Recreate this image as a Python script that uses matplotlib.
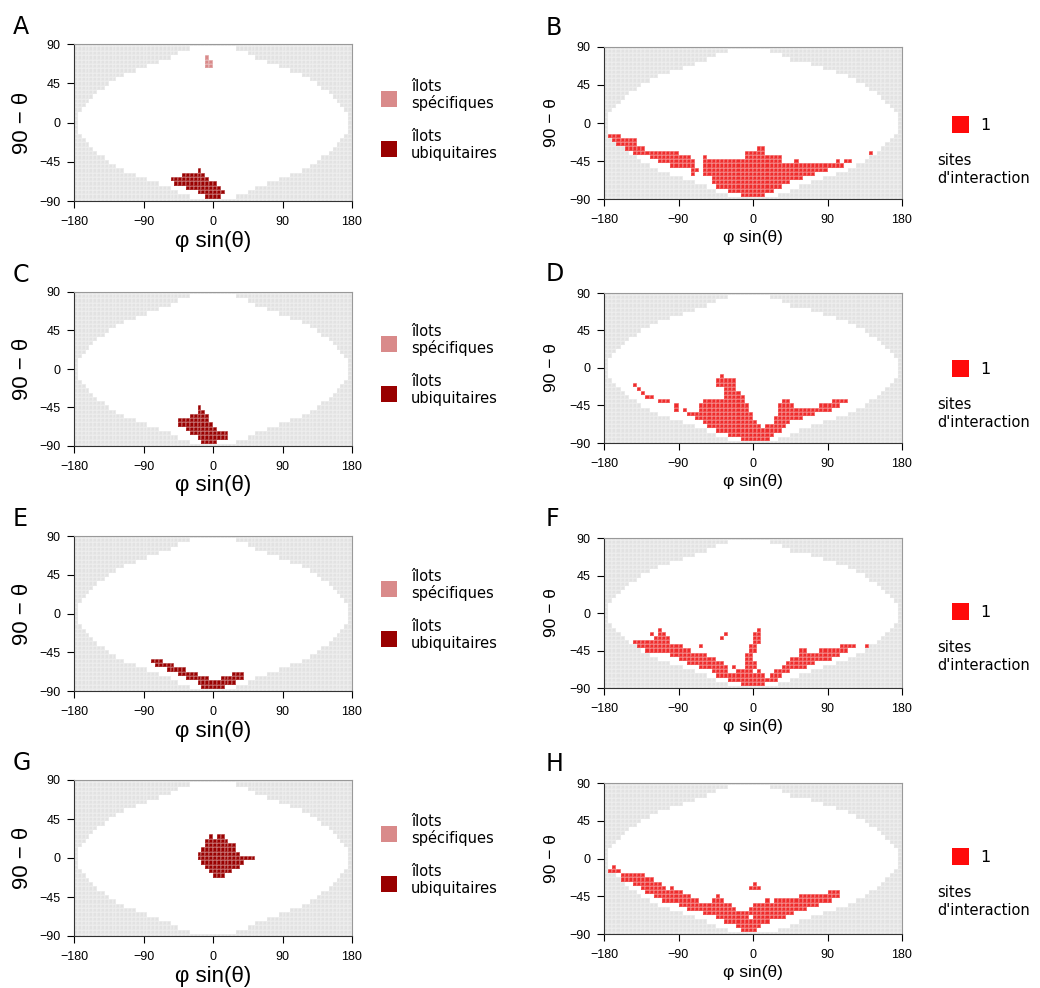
import numpy as np
import matplotlib
matplotlib.use("Agg")
import matplotlib.pyplot as plt
from matplotlib.colors import ListedColormap, BoundaryNorm
from matplotlib.patches import Rectangle

# ------------------------------------------------------------------ data
X_TICKS = [-180, -90, 0, 90, 180]
Y_TICKS = [-90, -45, 0, 45, 90]
X_EDGES = np.arange(-180, 181, 5)          # 72 columns of 5 degrees
Y_CENTERS = np.arange(-90, 91, 5)          # 37 rows centred on multiples of 5
Y_EDGES = np.arange(-92.5, 93, 5)

# accessible (white) area: |90-theta| of the row -> half width (degrees)
MASK_ABS_Y = [0, 5, 10, 15, 20, 25, 30, 35, 40, 45, 50, 55, 60, 65, 70, 75, 80, 85, 90]
MASK_HALF_WIDTH = [175, 175, 175, 170, 165, 160, 155, 150, 140, 135, 125, 115, 100, 85, 70, 55, 45, 30, 0]
# right-hand column: top rows slightly asymmetric
RIGHT_TOP_Y = [85, 80, 75]
RIGHT_TOP_LEFT = [-30, -45, -55]
RIGHT_TOP_RIGHT = [20, 35, 45]

# cells: (row 90-theta, x from, x to)
A_SPEC = [(75, -10, -5), (70, -10, 0), (65, -10, 0)]
A_UBIQ = [(-55, -20, -15), (-60, -40, -10), (-65, -55, -5), (-70, -50, 5),
          (-75, -35, 10), (-80, -20, 15), (-85, -10, 10)]
C_UBIQ = [(-45, -20, -15), (-50, -20, -10), (-55, -30, -5), (-60, -45, -5),
          (-65, -45, 0), (-70, -35, 5), (-75, -30, 20), (-80, -20, 20), (-85, -15, 5)]
E_UBIQ = [(-55, -80, -65), (-60, -75, -50), (-65, -60, -35), (-70, -45, -20),
          (-70, 25, 40), (-75, -35, -5), (-75, 10, 40), (-80, -20, 30), (-85, -15, 15)]
G_UBIQ = [(25, -5, 0), (25, 5, 15), (20, -10, 20), (15, -10, 30), (10, -15, 30),
          (5, -20, 35), (0, -20, 55), (-5, -15, 40), (-10, -10, 35), (-15, -5, 25), (-20, 0, 15)]

B_SITES = [(-15, -175, -160), (-20, -170, -140), (-25, -165, -140),
           (-30, -155, -130), (-30, 5, 15),
           (-35, -145, -90), (-35, -10, 15), (-35, 140, 145),
           (-40, -125, -75), (-40, -60, -55), (-40, -10, 35),
           (-45, -115, -70), (-45, -60, 35), (-45, 50, 55), (-45, 100, 105), (-45, 110, 120),
           (-50, -100, -70), (-50, -60, 110),
           (-55, -75, -65), (-55, -60, 90),
           (-60, -75, -70), (-60, -60, 75),
           (-65, -50, 60), (-70, -50, 45), (-75, -45, 35), (-80, -30, 25), (-85, -15, 15)]

D_SITES = [(-10, -40, -35),
           (-15, -45, -20),
           (-20, -145, -140), (-20, -45, -20),
           (-25, -140, -135), (-25, -35, -20),
           (-30, -135, -130), (-30, -35, -15),
           (-35, -130, -120), (-35, -35, -10),
           (-40, -115, -100), (-40, -60, -10), (-40, 35, 45), (-40, 95, 115),
           (-45, -95, -90), (-45, -65, -5), (-45, 30, 50), (-45, 80, 105),
           (-50, -95, -90), (-50, -85, -80), (-50, -65, -5), (-50, 30, 95),
           (-55, -80, 0), (-55, 30, 75),
           (-60, -70, 0), (-60, 25, 60),
           (-65, -60, 5), (-65, 25, 45),
           (-70, -55, 10), (-70, 15, 40),
           (-75, -45, 35), (-80, -30, 25), (-85, -15, 20)]

F_SITES = [(-20, -115, -110), (-20, 5, 10),
           (-25, -125, -120), (-25, -115, -105), (-25, -35, -30), (-25, 0, 10),
           (-30, -120, -100), (-30, -40, -35), (-30, 0, 10),
           (-35, -145, -100), (-35, 0, 10),
           (-40, -140, -85), (-40, -65, -60), (-40, -5, 5), (-40, 105, 125), (-40, 135, 140),
           (-45, -130, -75), (-45, -5, 5), (-45, 55, 65), (-45, 80, 115),
           (-50, -100, -55), (-50, -10, 0), (-50, 55, 105),
           (-55, -90, -45), (-55, -10, 0), (-55, 45, 95),
           (-60, -80, -35), (-60, -10, 5), (-60, 40, 75),
           (-65, -65, -30), (-65, -25, -20), (-65, -10, 5), (-65, 35, 65),
           (-70, -50, -30), (-70, -20, 0), (-70, 5, 10), (-70, 25, 45),
           (-75, -45, 15), (-75, 20, 35),
           (-80, -30, 30), (-85, -15, 15)]

H_SITES = [(-10, -170, -165), (-15, -175, -160), (-20, -160, -130), (-25, -160, -120),
           (-30, -145, -110), (-30, 0, 5),
           (-35, -135, -105), (-35, -100, -95), (-35, -5, 10),
           (-40, -130, -85), (-40, 90, 105),
           (-45, -120, -75), (-45, -45, -40), (-45, 55, 105),
           (-50, -110, -65), (-50, -50, -35), (-50, 15, 20), (-50, 25, 95),
           (-55, -90, -25), (-55, 0, 80),
           (-60, -80, -20), (-60, -5, 65),
           (-65, -60, 50), (-70, -45, -5), (-70, 0, 40),
           (-75, -35, 20), (-80, -20, 10), (-85, -15, 5)]

LEFT_PANELS = [("A", A_SPEC, A_UBIQ), ("C", [], C_UBIQ), ("E", [], E_UBIQ), ("G", [], G_UBIQ)]
RIGHT_PANELS = [("B", B_SITES), ("D", D_SITES), ("F", F_SITES), ("H", H_SITES)]

LEGEND_SPEC = ["îlots", "spécifiques"]
LEGEND_UBIQ = ["îlots", "ubiquitaires"]
LEGEND_SITES_VALUE = "1"
LEGEND_SITES = ["sites", "d'interaction"]

# ------------------------------------------------------------------ style
GREY, WHITE = "#e2e2e2", "#ffffff"
PINK, DARK, RED = "#d98a8a", "#990000", "#ef2b2b"
CMAP = ListedColormap([GREY, WHITE, PINK, DARK, RED])
NORM = BoundaryNorm([-0.5, 0.5, 1.5, 2.5, 3.5, 4.5], 5)

W, H = 1040, 988
fig = plt.figure(figsize=(W / 100, H / 100), dpi=100)


def fx(px):
    return px / W


def fy(py):
    return 1 - py / H


def make_mask(right_col):
    lo = np.zeros(len(Y_CENTERS))
    hi = np.zeros(len(Y_CENTERS))
    for i, y in enumerate(Y_CENTERS):
        hw = MASK_HALF_WIDTH[MASK_ABS_Y.index(abs(int(y)))]
        lo[i], hi[i] = -hw, hw
        if right_col and int(y) in RIGHT_TOP_Y:
            k = RIGHT_TOP_Y.index(int(y))
            lo[i], hi[i] = RIGHT_TOP_LEFT[k], RIGHT_TOP_RIGHT[k]
    return lo, hi


def build_grid(right_col, layers):
    xl, xr = X_EDGES[:-1], X_EDGES[1:]
    g = np.zeros((len(Y_CENTERS), len(xl)))
    lo, hi = make_mask(right_col)
    for i in range(len(Y_CENTERS)):
        g[i, (xl >= lo[i]) & (xr <= hi[i])] = 1
    for code, cells in layers:
        for (y, x0, x1) in cells:
            i = int(round((y + 90) / 5))
            g[i, (xl >= x0) & (xr <= x1)] = code
    return g


TICK_FONT = ["Liberation Sans", "DejaVu Sans"]


def draw_map(left, right, top, bottom, grid):
    ax = fig.add_axes([fx(left), fy(bottom), (right - left) / W, (bottom - top) / H])
    ax.pcolormesh(X_EDGES, Y_EDGES, grid, cmap=CMAP, norm=NORM,
                  edgecolors=(1, 1, 1, 0.18), linewidth=0.25)
    ax.set_xlim(-180, 180)
    ax.set_ylim(-90, 90)
    ax.set_xticks(X_TICKS)
    ax.set_yticks(Y_TICKS)
    ax.tick_params(axis="both", direction="out", length=5, width=0.8, labelsize=9)
    ax.tick_params(axis="x", pad=5.5)
    ax.tick_params(axis="y", pad=4.5)
    for lab in ax.get_xticklabels() + ax.get_yticklabels():
        lab.set_fontfamily(TICK_FONT)
    for s in ("top", "right"):
        ax.spines[s].set_color("#999999")
        ax.spines[s].set_linewidth(0.8)
    for s in ("left", "bottom"):
        ax.spines[s].set_color("#333333")
        ax.spines[s].set_linewidth(0.8)
    return ax


LEFT_X = (74, 352)
RIGHT_X = (604, 902)
LEFT_ROWS = [(44.3, 201), (292, 446), (536, 691), (780, 936)]
RIGHT_ROWS = [(46.7, 199.3), (293, 443), (538, 688), (783, 934)]
LEFT_LEG_OFF = [0, 245, 490, 735]
RIGHT_LEG_OFF = [0, 244, 487, 732]

# left column
for (letter, spec, ubiq), (top, bot), off in zip(LEFT_PANELS, LEFT_ROWS, LEFT_LEG_OFF):
    grid = build_grid(False, [(2, spec), (3, ubiq)])
    draw_map(LEFT_X[0], LEFT_X[1], top, bot, grid)
    fig.text(fx(13), fy(top - 10), letter, fontsize=17, family="DejaVu Sans",
             ha="left", va="baseline")
    fig.text(fx(22), fy((top + bot) / 2), "90 − θ", fontsize=16, family=TICK_FONT,
             rotation=90, ha="center", va="center")
    fig.text(fx(213), fy(bot + 40), "φ sin(θ)", fontsize=16, family=TICK_FONT,
             ha="center", va="center")
    # legend
    for col, yc, lines in [(PINK, 98.7, LEGEND_SPEC), (DARK, 148.7, LEGEND_UBIQ)]:
        fig.patches.append(Rectangle((fx(380.7), fy(yc + off + 8)), 16 / W, 16 / H,
                                     facecolor=col, edgecolor="none",
                                     transform=fig.transFigure, figure=fig))
        fig.text(fx(411), fy(yc + off - 8), lines[0], fontsize=10.5, family="DejaVu Sans",
                 ha="left", va="baseline")
        fig.text(fx(411), fy(yc + off + 9.6), lines[1], fontsize=10.5, family="DejaVu Sans",
                 ha="left", va="baseline")

# right column
for (letter, sites), (top, bot), off in zip(RIGHT_PANELS, RIGHT_ROWS, RIGHT_LEG_OFF):
    grid = build_grid(True, [(4, sites)])
    draw_map(RIGHT_X[0], RIGHT_X[1], top, bot, grid)
    fig.text(fx(546), fy(top - 12), letter, fontsize=17, family="DejaVu Sans",
             ha="left", va="baseline")
    fig.text(fx(551.5), fy((top + bot) / 2), "90 − θ", fontsize=12.5, family=TICK_FONT,
             rotation=90, ha="center", va="center")
    fig.text(fx(753), fy(bot + 38), "φ sin(θ)", fontsize=12.5, family=TICK_FONT,
             ha="center", va="center")
    fig.patches.append(Rectangle((fx(952.3), fy(132.7 + off)), 17 / W, 17 / H,
                                 facecolor="#ff0a0a", edgecolor="none",
                                 transform=fig.transFigure, figure=fig))
    fig.text(fx(980), fy(130 + off), LEGEND_SITES_VALUE, fontsize=11.5,
             family="DejaVu Sans", ha="left", va="baseline")
    fig.text(fx(937), fy(165 + off), LEGEND_SITES[0], fontsize=10.5,
             family="DejaVu Sans", ha="left", va="baseline")
    fig.text(fx(937), fy(183.3 + off), LEGEND_SITES[1], fontsize=10.5,
             family="DejaVu Sans", ha="left", va="baseline")

fig.savefig("out.png", dpi=100, facecolor="white")
